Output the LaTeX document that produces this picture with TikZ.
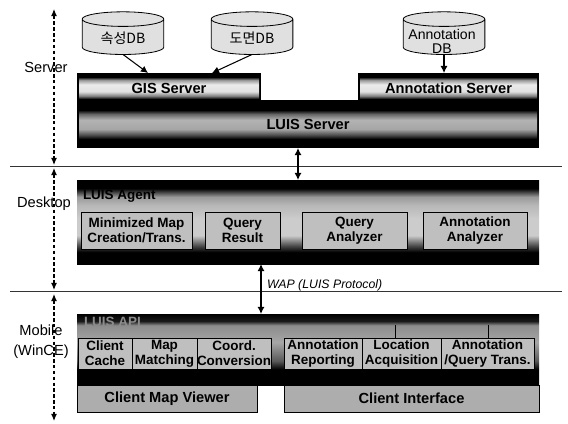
\documentclass[tikz,border=0pt]{standalone}
\usepackage{fontspec}
\setmainfont{Liberation Sans}
\newfontfamily\krfont{Noto Sans CJK KR}
\usepackage{tikz}
\usetikzlibrary{
	arrows.meta,
	shapes.geometric
}
\pgfdeclareverticalshading{gisband}{100bp}{
	color(0bp)=(black); color(25bp)=(black); color(32bp)=(black!50);
	color(42bp)=(black!12); color(58bp)=(black!8); color(68bp)=(black!40); color(75bp)=(black); color(100bp)=(black)
}
\pgfdeclareverticalshading{luisband}{100bp}{
	color(0bp)=(black); color(25bp)=(black); color(32bp)=(black!70);
	color(42bp)=(black!35); color(58bp)=(black!30); color(68bp)=(black!60); color(75bp)=(black); color(100bp)=(black)
}
\pgfdeclareverticalshading{agentband}{100bp}{
	color(0bp)=(black); color(25bp)=(black); color(32bp)=(black); color(36bp)=(black!70);
	color(42bp)=(black!20); color(52bp)=(black!20); color(60bp)=(black!28); color(65bp)=(black!40); color(70bp)=(black); color(100bp)=(black)
}
\pgfdeclareverticalshading{mobileband}{100bp}{
	color(0bp)=(black); color(25bp)=(black); color(36bp)=(black); color(42bp)=(black!65);
	color(55bp)=(black!35); color(67bp)=(black!45); color(70bp)=(black!90); color(75bp)=(black); color(100bp)=(black)
}

\begin{document}
\begin{tikzpicture}[
			x=0.03cm,
			y=-0.03cm,
			font=\bfseries\fontsize{11.5}{12.5}\selectfont,
			base/.style={
					inner sep=0pt,
					outer sep=0pt
				},
			darkbox/.style={
					base,
					fill=black,
					anchor=north west
				},
			band/.style={
					base,
					anchor=north west,
					shading=#1,
					font=\bfseries\fontsize{12.5}{14}\selectfont
				},
			inbox/.style={
					base,
					draw=black,
					line width=0.5pt,
					fill=black!25,
					align=center,
					anchor=north west
				},
			viewer/.style={
					base,
					draw=black,
					line width=0.6pt,
					fill=black!32,
					align=center,
					anchor=north west,
					minimum height=0.81cm,
					font=\bfseries\fontsize{12.5}{14}\selectfont
				},
			dbnode/.style={
					base,
					draw=black,
					line width=0.7pt,
					cylinder,
					shape border rotate=90,
					aspect=0.25,
					fill=black!12,
					minimum width=2.45cm,
					minimum height=1.28cm
				},
			dbtext/.style={
					base,
					align=center,
					font=\fontsize{12}{12}\selectfont
				},
			tier/.style={
					base,
					align=center,
					font=\fontsize{12.5}{17}\selectfont
				},
			link/.style={
					{Latex[length=6pt,width=6pt]}-{Latex[length=6pt,width=6pt]},
					line width=1.1pt
				},
			feed/.style={
					-{Latex[length=6pt,width=6pt]},
					line width=0.9pt
				},
			span/.style={
					{Latex[length=6pt,width=5pt]}-{Latex[length=6pt,width=5pt]},
					dash pattern=on 3pt off 2pt,
					line width=0.9pt
				},
			sep/.style={
					line width=0.8pt,
					black!80
				}
		]
		\useasboundingbox (0,0) rectangle (568,423);

		% server
		\node[darkbox, minimum width=5.52cm, minimum height=1.2cm] (gis) at (77,73) {};
		\node[darkbox, minimum width=5.43cm, minimum height=1.2cm] (annot) at (358,73) {};
		\node[darkbox, minimum width=13.86cm, minimum height=1.44cm] (luis) at (77,100) {};
		\node[band=gisband, minimum width=5.4cm, minimum height=0.66cm] (gisb) at (79,77) {GIS Server};
		\node[band=gisband, minimum width=5.31cm, minimum height=0.66cm] (annotb) at (360,77) {Annotation Server};
		\node[band=luisband, minimum width=13.74cm, minimum height=0.87cm] (luisb) at (79,110) {LUIS Server};

		\node[dbnode] (dba) at (123,37) {\phantom{DBDBDB}};
		\node[dbnode] (dbb) at (252,37) {\phantom{DBDBDB}};
		\node[dbnode] (dbc) at (444,37) {\phantom{DBDBDB}};
		\node[dbtext, font=\krfont\fontsize{12}{13}\selectfont] (dbal) at (123,38) {속성DB};
		\node[dbtext, font=\krfont\fontsize{12}{13}\selectfont] (dbbl) at (252,38) {도면DB};
		\node[dbtext] (dbcl) at (442,41) {Annotation\\DB};

		\coordinate (gisa) at (148,73);
		\coordinate (gisc) at (212,73);
		\draw[feed] (dba.south) -- (gisa);
		\draw[feed] (dbb.south) -- (gisc);
		\draw[feed] (dbc.south) -- (dbc.south |- annot.north);

		% desktop
		\node[base, anchor=north west, shading=agentband, minimum width=13.86cm, minimum height=2.52cm] (agent) at (77,180) {};
		\node[base, anchor=west] (agentl) at (83,196) {LUIS Agent};
		\node[inbox, minimum width=3.33cm, minimum height=1.11cm] (mini) at (81,212) {Minimized Map\\Creation/Trans.};
		\node[inbox, minimum width=2.25cm, minimum height=1.11cm] (qres) at (205,212) {Query\\Result};
		\node[inbox, minimum width=3.15cm, minimum height=1.11cm] (qana) at (302,212) {Query\\Analyzer};
		\node[inbox, minimum width=3.12cm, minimum height=1.11cm] (aana) at (423,212) {Annotation\\Analyzer};

		% mobile
		\node[base, anchor=north west, shading=mobileband, minimum width=13.86cm, minimum height=2.13cm] (ubi) at (77,314) {};
		\node[base, anchor=west, text=black!45] (ubil) at (84,322) {LUIS API};
		\node[inbox, minimum width=1.62cm, minimum height=0.93cm] (cache) at (78,338) {Client\\Cache};
		\node[inbox, minimum width=1.95cm, minimum height=0.93cm] (match) at (132,338) {Map\\Matching};
		\node[inbox, minimum width=2.19cm, minimum height=0.93cm] (coord) at (197,338) {Coord.\\Conversion};
		\node[inbox, minimum width=2.34cm, minimum height=0.93cm] (repo) at (284,338) {Annotation\\Reporting};
		\node[inbox, minimum width=2.37cm, minimum height=0.93cm] (loca) at (362,338) {Location\\Acquisition};
		\node[inbox, minimum width=2.79cm, minimum height=0.93cm] (trans) at (441,338) {Annotation\\/Query Trans.};
		\draw[line width=0.8pt] (395,325) -- (395,338);
		\draw[line width=0.8pt] (488,325) -- (488,338);
		\node[viewer, minimum width=5.4cm] (cmv) at (77,385) {Client Map Viewer};
		\node[viewer, minimum width=7.65cm] (cif) at (284,385) {Client Interface};

		% tiers
		\node[tier] (lsrv) at (46,67) {Server};
		\node[tier] (ldsk) at (44,204) {Desktop};
		\node[tier] (lmob) at (41,342) {Mobile\\(WinCE)};

		\coordinate (sa) at (10,166);
		\coordinate (sb) at (562,166);
		\coordinate (sc) at (10,291);
		\coordinate (sd) at (562,291);
		\draw[sep] (sa) -- (sb);
		\draw[sep] (sc) -- (sd);

		\coordinate (ta) at (54,9);
		\coordinate (tb) at (54,165);
		\coordinate (tc) at (54,168);
		\coordinate (td) at (54,290);
		\coordinate (te) at (54,294);
		\coordinate (tf) at (54,421);
		\draw[span] (ta) -- (tb);
		\draw[span] (tc) -- (td);
		\draw[span] (te) -- (tf);

		\draw[link] (luis.south -| 298,0) -- (agent.north -| 298,0);
		\draw[link] (agent.south -| 261,0) -- (ubi.north -| 261,0);
		\node[base, anchor=south west, font=\itshape\fontsize{10.5}{11}\selectfont] (wap) at (267,291) {WAP (LUIS Protocol)};
	\end{tikzpicture}
\end{document}
